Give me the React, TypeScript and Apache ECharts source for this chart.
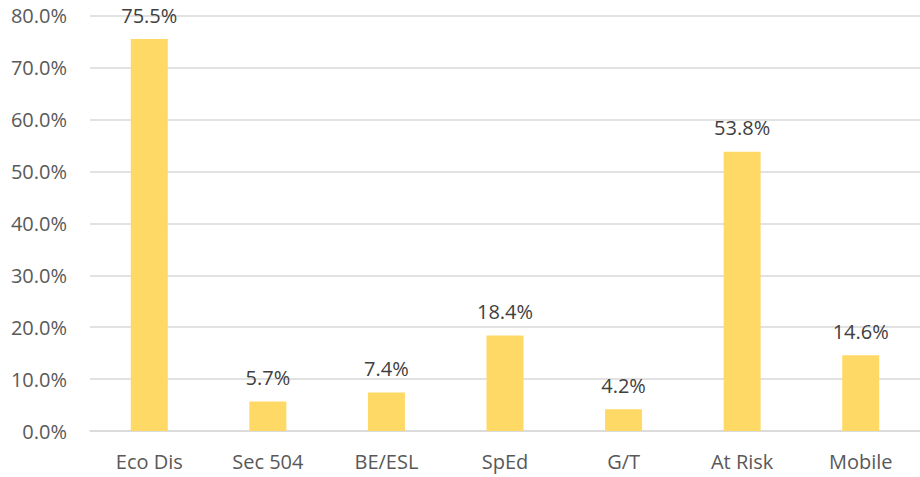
import React, { useEffect, useRef } from "react";
import * as echarts from "echarts";

const categories = ["Eco Dis", "Sec 504", "BE/ESL", "SpEd", "G/T", "At Risk", "Mobile"];
const values = [75.5, 5.7, 7.4, 18.4, 4.2, 53.8, 14.6];
const yMin = 0;
const yMax = 80;
const yInterval = 10;

export default function App() {
  const ref = useRef<HTMLDivElement>(null);
  useEffect(() => {
    if (!ref.current) return;
    const chart = echarts.init(ref.current, null, { renderer: "svg" });
    const font = "'Open Sans', 'Noto Sans', sans-serif";
    chart.setOption({
      animation: false,
      grid: { left: 90, right: 0, top: 15.7, bottom: 46 },
      xAxis: {
        type: "category",
        data: categories,
        axisTick: { show: false },
        axisLine: { lineStyle: { color: "#D9D9D9", width: 1.5 } },
        axisLabel: { color: "#595959", fontSize: 20, fontFamily: font, margin: 20 },
      },
      yAxis: {
        type: "value",
        min: yMin,
        max: yMax,
        interval: yInterval,
        axisLine: { show: false },
        axisTick: { show: false },
        splitLine: { lineStyle: { color: "#D9D9D9", width: 1.5 } },
        axisLabel: {
          color: "#595959",
          fontSize: 20,
          fontFamily: font,
          margin: 23,
          formatter: (v: number) => v.toFixed(1) + "%",
        },
      },
      series: [
        {
          type: "bar",
          data: values,
          barWidth: 37,
          itemStyle: { color: "#FFD966" },
          label: {
            show: true,
            position: "top",
            distance: 14,
            color: "#404040",
            fontSize: 20,
            fontFamily: font,
            formatter: (p: any) => Number(p.value).toFixed(1) + "%",
          },
        },
      ],
    });
    return () => chart.dispose();
  }, []);
  return (
    <div
      ref={ref}
      style={{ position: "absolute", left: 0, top: 0, width: 920, height: 477 }}
    />
  );
}
